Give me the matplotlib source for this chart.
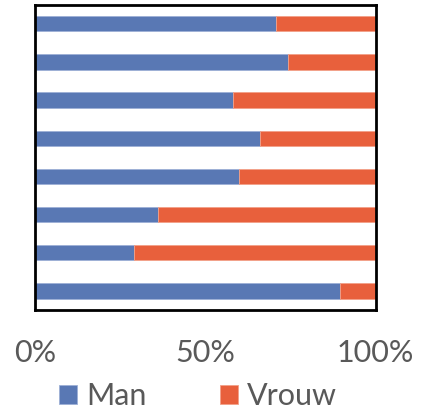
import matplotlib
matplotlib.use("Agg")
import matplotlib.pyplot as plt
import numpy as np

categories = ["1", "2", "3", "4", "5", "6", "7", "8"]
man = [0.708, 0.744, 0.581, 0.660, 0.599, 0.362, 0.291, 0.897]
vrouw = [1 - v for v in man]
series_names = ["Man", "Vrouw"]
tick_values = [0, 0.5, 1.0]
tick_labels = ["0%", "50%", "100%"]

plt.rcParams['font.family'] = ['Lato', 'DejaVu Sans']

fig = plt.figure(figsize=(4.26, 4.15), dpi=100)
ax = fig.add_axes([0.0822, 0.253, 0.7993, 0.7357])

blue = "#5978B4"
orange = "#E8603C"
y = np.arange(len(categories))
b1 = ax.barh(y, man, height=0.4, color=blue, edgecolor="#9DB0D6", linewidth=0.6, label=series_names[0])
b2 = ax.barh(y, vrouw, left=man, height=0.4, color=orange, edgecolor="#F2A088", linewidth=0.6, label=series_names[1])

ax.set_ylim(len(categories) - 0.5, -0.5)
ax.set_xlim(0, 1)
ax.set_yticks([])
ax.set_xticks(tick_values)
ax.set_xticklabels(tick_labels)
ax.tick_params(axis='x', length=0, pad=21, labelsize=22, labelcolor="#595959")
for s in ax.spines.values():
    s.set_linewidth(2)
    s.set_color("black")

fig.legend(handles=[b1, b2], labels=series_names, loc='center', bbox_to_anchor=(198/426, 1 - 396/415),
           ncol=2, frameon=False, fontsize=22, labelcolor="#595959",
           handlelength=0.58, handleheight=0.58, handletextpad=0.3, columnspacing=2.4,
           borderpad=0, borderaxespad=0)

fig.savefig("out.png", dpi=100)
